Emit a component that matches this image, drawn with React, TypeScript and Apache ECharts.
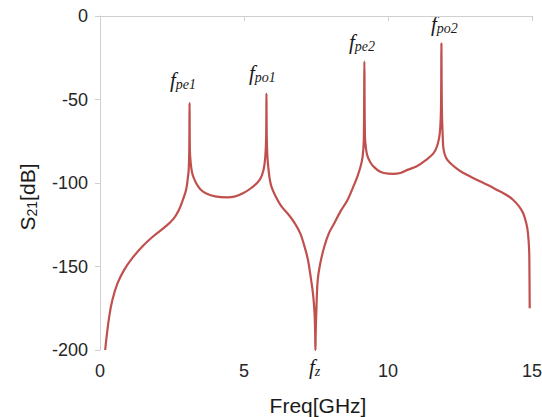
import React, { useEffect, useRef } from "react";
import * as echarts from "echarts";

// Frequency (GHz) and S21 (dB)
const freq = [
  0.18, 0.23, 0.32, 0.43, 0.61, 0.84, 1.12, 1.47, 1.81, 2.28, 2.55, 2.73, 2.88, 2.99, 3.05, 3.08, 3.1,
  3.11, 3.12, 3.15, 3.2, 3.28, 3.37, 3.5, 3.71, 4.0, 4.4, 4.7, 4.98, 5.25, 5.55, 5.68, 5.74, 5.77, 5.78, 5.79, 5.82,
  5.88, 5.95, 6.1, 6.3, 6.55, 6.76, 6.95, 7.1, 7.22, 7.33, 7.4, 7.45, 7.47, 7.48, 7.49, 7.51, 7.56, 7.65, 7.79, 7.95,
  8.14, 8.35, 8.6, 8.8, 8.94, 9.05, 9.12, 9.16, 9.18, 9.2, 9.24, 9.29, 9.4, 9.52, 9.7, 9.86, 10.15, 10.43, 10.7, 11.0,
  11.3, 11.59, 11.72, 11.8, 11.84, 11.855, 11.87, 11.9, 11.93, 12.02, 12.16, 12.4, 12.62, 12.9, 13.19, 13.5, 13.77,
  14.1, 14.34, 14.55, 14.69, 14.8, 14.86, 14.9, 14.91, 14.92,
];
const s21 = [
  -200, -192, -180, -170, -160, -152, -145, -138, -132.5, -126, -121.5, -116.5, -110, -104, -97, -92, -80,
  -52, -80, -88, -94, -98, -101, -104, -106.5, -108, -108.6, -108, -106, -103, -98, -92, -84, -72, -46.5, -72, -86,
  -96, -102, -108, -114, -119, -124, -130, -138, -146, -158, -167, -178, -190, -200, -190, -178, -158, -148, -138, -130,
  -124, -117, -110, -102, -96, -90, -84, -74, -27.3, -72, -80, -84, -88, -90.5, -93, -94, -94.5, -94, -92, -90,
  -86.5, -82, -77, -70, -55, -16.4, -55, -72, -80, -85, -88, -91.5, -94, -96.5, -99, -101.5, -104,
  -107, -110, -114, -118, -124, -130, -140, -150, -175,
];

const xTicks = { min: 0, max: 15, interval: 5 };
const yTicks = { min: -200, max: 0, interval: 50 };

// Resonance annotations: [main, subscript, x, y]
const annotations: [string, string, number, number][] = [
  ["f", "pe1", 170, 80],
  ["f", "po1", 249, 73],
  ["f", "pe2", 349, 42],
  ["f", "po2", 431, 24],
  ["f", "z", 309, 367],
];

export default function App() {
  const ref = useRef<HTMLDivElement>(null);
  useEffect(() => {
    if (!ref.current) return;
    const chart = echarts.init(ref.current, undefined, { renderer: "svg" });
    const data = freq.map((f, i) => [f, s21[i]]);
    const axisFont = { fontFamily: "Liberation Sans", fontSize: 18, color: "#262626" };
    chart.setOption({
      animation: false,
      grid: { left: 100, right: 10, top: 16, bottom: 67, outerBoundsMode: "none", containLabel: false },
      xAxis: {
        type: "value",
        ...xTicks,
        axisLine: { show: true, lineStyle: { color: "#d0d0d0", width: 1 } },
        axisTick: { show: true, length: 5, lineStyle: { color: "#d0d0d0" } },
        axisLabel: { ...axisFont, margin: 12 },
        splitLine: { show: false },
      },
      yAxis: {
        type: "value",
        ...yTicks,
        axisLine: { show: true, lineStyle: { color: "#d0d0d0", width: 1 } },
        axisTick: { show: true, length: 5, lineStyle: { color: "#d0d0d0" } },
        axisLabel: { ...axisFont, margin: 12 },
        splitLine: { show: false },
      },
      series: [
        {
          type: "line",
          data,
          showSymbol: false,
          smooth: 0.4,
          lineStyle: { color: "#c0504d", width: 2.2 },
          itemStyle: { color: "#c0504d" },
        },
      ],
      graphic: [
        {
          type: "text",
          x: 318,
          y: 405,
          style: {
            text: "Freq[GHz]",
            fontFamily: "Liberation Sans",
            fontSize: 21,
            fill: "#1a1a1a",
            align: "center",
            verticalAlign: "middle",
          },
        },
        {
          type: "text",
          x: 27,
          y: 197,
          rotation: Math.PI / 2,
          style: {
            text: "{a|S}{b|21}{a|[dB]}",
            align: "center",
            verticalAlign: "middle",
            rich: {
              a: { fontFamily: "Liberation Sans", fontSize: 21, fill: "#1a1a1a", lineHeight: 22 },
              b: { fontFamily: "Liberation Sans", fontSize: 14, fill: "#1a1a1a", lineHeight: 14, padding: [9, 0, 0, 0] },
            },
          },
        },
        ...annotations.map(([m, s, x, y]) => ({
          type: "text",
          x,
          y,
          style: {
            text: `{a|${m}}{b|${s}}`,
            verticalAlign: "middle",
            rich: {
              a: { fontFamily: "Liberation Serif", fontStyle: "italic", fontSize: 21, fill: "#1a1a1a", lineHeight: 22 },
              b: { fontFamily: "Liberation Serif", fontStyle: "italic", fontSize: 14, fill: "#1a1a1a", lineHeight: 14, padding: [9, 0, 0, 0] },
            },
          },
        })),
      ],
    });
    return () => chart.dispose();
  }, []);
  return <div ref={ref} style={{ width: 542, height: 417, position: "absolute", left: 0, top: 0 }} />;
}
